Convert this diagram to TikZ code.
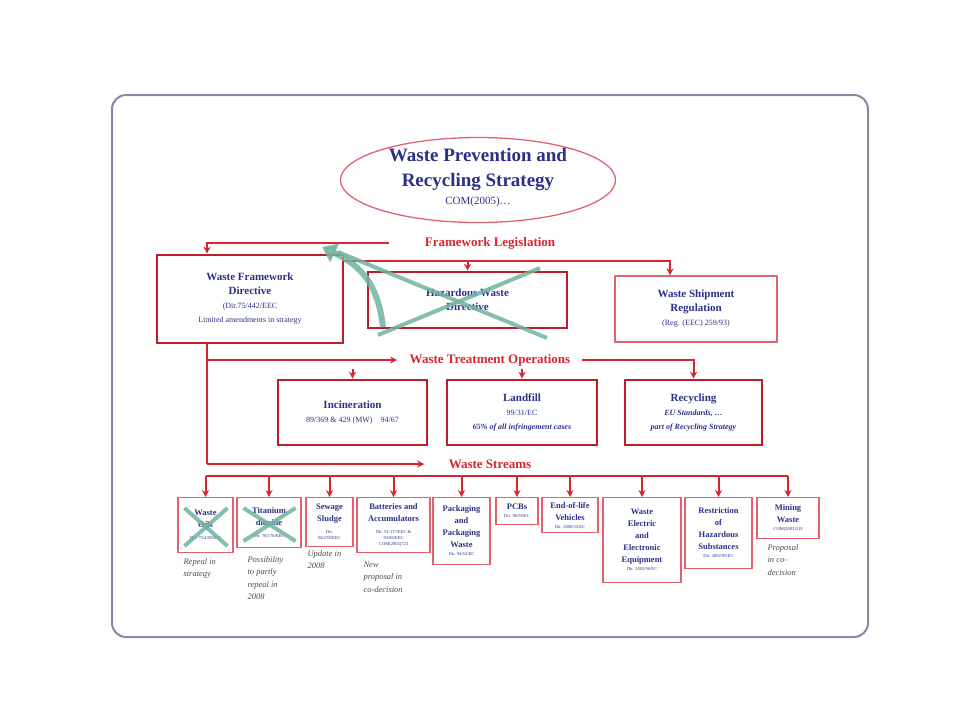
\documentclass[tikz,border=0pt]{standalone}
\usepackage{fontspec}
\setmainfont{Liberation Serif}
\usepackage{tikz}
\usetikzlibrary{positioning,calc,arrows.meta,shapes.geometric}
\definecolor{color1}{HTML}{2B3087}
\definecolor{color2}{HTML}{D9252F}
\definecolor{color3}{HTML}{E2626E}
\definecolor{color4}{HTML}{6FB39E}
\definecolor{color5}{HTML}{858AA3}
\newcommand{\StrategyTitleFont}{\fontsize{19pt}{25pt}\selectfont}
\newcommand{\StrategyHeadingFont}{\fontsize{13pt}{15pt}\selectfont}
\newcommand{\StrategyBoxFont}{\fontsize{11pt}{14pt}\selectfont}
\newcommand{\StrategySmallFont}{\fontsize{8pt}{11pt}\selectfont}
\newcommand{\StreamFont}{\fontsize{8.5pt}{12pt}\selectfont}
\newcommand{\StreamDirFont}{\fontsize{4.5pt}{6pt}\selectfont}
\newcommand{\NoteFont}{\fontsize{8.5pt}{12.5pt}\selectfont}

\begin{document}
\begin{tikzpicture}[x=1pt,y=-1pt]
            \tikzset{
                strategy frame/.style={draw=color5, line width=2pt, rounded corners=14pt},
                strategy ellipse/.style={draw=color3, line width=1.3pt, ellipse,
                    minimum width=275, minimum height=85, inner sep=0pt},
                strategy heading/.style={text=color2, font=\StrategyHeadingFont\bfseries},
                strategy line/.style={draw=color2, line width=2pt},
                strategy flow/.style={->, >={Stealth[length=7pt,width=7pt]},
                    line width=2pt, draw=color2},
                strategy box/.style={draw=color2!85!black, line width=2.6pt,
                    align=center, text=color1, inner sep=2pt,
                    font=\StrategyBoxFont},
                stream box/.style={draw=color3, line width=1.1pt, align=center,
                    text=color1, inner sep=1pt, anchor=north, font=\StreamFont},
                strategy note/.style={anchor=north west, align=left,
                    font=\NoteFont\itshape, text=black!70},
                cross mark/.style={draw=color4, line width=4pt, opacity=0.85}
            }
            \useasboundingbox (0,0) rectangle (956,721);
            \draw[strategy frame] (112,95) rectangle (868,637);

            % strategy on top
            \node[strategy ellipse] (strategy) at (478,180) {};
            \node[align=center, text=color1, font=\StrategyTitleFont\bfseries]
                (strategy-title) at (478,178)
                {Waste Prevention and\\Recycling Strategy\\[-7pt]
                 {\fontsize{11pt}{12pt}\selectfont\mdseries COM(2005)\ldots}};

            % headings
            \node[strategy heading] (framework-label) at (490,243) {Framework Legislation};
            \node[strategy heading] (treatment-label) at (490,360) {Waste Treatment Operations};
            \node[strategy heading] (streams-label) at (490,464) {Waste Streams};

            % framework legislation
            \node[strategy box, minimum width=186, minimum height=88] (wfd) at (250,299)
                {\textbf{Waste Framework}\\\textbf{Directive}\\
                 {\StrategySmallFont(Dir.75/442/EEC}\\
                 {\StrategySmallFont Limited amendments in strategy}};
            \node[strategy box, minimum width=199, minimum height=56] (hazardous) at (467.5,300)
                {\textbf{Hazardous Waste}\\\textbf{Directive}};
            \node[strategy box, draw=color3, line width=1.3pt, minimum width=162,
                minimum height=66] (shipment) at (696,309)
                {\textbf{Waste Shipment}\\\textbf{Regulation}\\
                 {\StrategySmallFont(Reg. (EEC) 259/93)}};
            \coordinate (legislation-bus) at (0,261);
            \coordinate (trunk-end) at (207,464);

            \draw[strategy flow] ([xshift=-32pt]framework-label.west) -| ([xshift=-43pt]wfd.north);
            \draw[strategy flow] (wfd.east |- legislation-bus) -| ([xshift=-26pt]shipment.north);
            \draw[strategy flow] (hazardous.north |- legislation-bus) -- (hazardous.north);
            \draw[strategy line] ([xshift=-43pt]wfd.south) -- (trunk-end);

            % hazardous waste merged into the framework directive
            \draw[cross mark] (338,252) -- (547,338);
            \draw[cross mark] (378,335) -- (540,268);
            \draw[cross mark, line width=6pt, -{Triangle[length=14pt,width=20pt]}]
                (383,327) .. controls (378,285) and (362,266) .. (322,247);

            % treatment operations
            \node[strategy box, minimum width=149, minimum height=65] (incineration) at (352.5,412.5)
                {\textbf{Incineration}\\{\StrategySmallFont 89/369 \& 429 (MW)\quad 94/67}};
            \node[strategy box, minimum width=150, minimum height=65] (landfill) at (522,412.5)
                {\textbf{Landfill}\\{\StrategySmallFont 99/31/EC}\\
                 {\StrategySmallFont\bfseries\itshape 65\% of all infringement cases}};
            \node[strategy box, minimum width=137, minimum height=65] (recycling) at (693.5,412.5)
                {\textbf{Recycling}\\{\StrategySmallFont\bfseries\itshape EU Standards, \ldots}\\
                 {\StrategySmallFont\bfseries\itshape part of Recycling Strategy}};

            \draw[strategy flow] (trunk-end |- treatment-label) -- ([xshift=-9pt]treatment-label.west);
            \draw[strategy flow] ([xshift=8pt]treatment-label.east) -| (recycling.north);
            \draw[strategy flow] ([yshift=10pt]incineration.north) -- (incineration.north);
            \draw[strategy flow] ([yshift=10pt]landfill.north) -- (landfill.north);

            % waste streams
            \draw[strategy flow] (trunk-end) -- ([xshift=-21pt]streams-label.west);
            \coordinate (streams-bus) at (0,476);
            \foreach \stream/\cx/\w/\h/\txt in {
                1/205.5/55/55/{\textbf{Waste}\\\textbf{Oils}\\{\StreamDirFont Dir. 75/439/EEC}},
                2/269/64/50/{\textbf{Titanium}\\\textbf{dioxide}\\{\StreamDirFont Dir. 78/176/EEC}},
                3/329.5/47/49/{\textbf{Sewage}\\\textbf{Sludge}\\{\StreamDirFont Dir.}\\[-6pt]{\StreamDirFont 86/278/EEC}},
                4/393.5/73/55/{\textbf{Batteries and}\\\textbf{Accumulators}\\{\StreamDirFont Dir. 91/157/EEC \&}\\[-6pt]{\StreamDirFont 93/86/EEC}\\[-6pt]{\StreamDirFont COM(2003)723}},
                5/461.5/57/67/{\textbf{Packaging}\\\textbf{and}\\\textbf{Packaging}\\\textbf{Waste}\\[-4pt]{\StreamDirFont Dir. 94/62/EC}},
                6/517/42/27/{\textbf{PCBs}\\[-4pt]{\StreamDirFont Dir. 96/59/EC}},
                7/570/56/35/{\textbf{End-of-life}\\\textbf{Vehicles}\\[-4pt]{\StreamDirFont Dir. 2000/53/EC}},
                8/642/78/85/{\textbf{Waste}\\\textbf{Electric}\\\textbf{and}\\\textbf{Electronic}\\\textbf{Equipment}\\[-4pt]{\StreamDirFont Dir. 2002/96/EC}},
                9/718.5/67/71/{\textbf{Restriction}\\\textbf{of}\\\textbf{Hazardous}\\\textbf{Substances}\\[-4pt]{\StreamDirFont Dir. 2002/95/EC}},
                10/788/62/41/{\textbf{Mining}\\\textbf{Waste}\\[-4pt]{\StreamDirFont COM(2003)319}}} {
                \node[stream box, minimum width=\w, minimum height=\h]
                    (stream-\stream) at (\cx,497) {\txt};
                \draw[strategy flow] (stream-\stream.north |- streams-bus) -- (stream-\stream.north);
            }
            \draw[strategy line] (stream-1.north |- streams-bus) -- (stream-10.north |- streams-bus);
            \foreach \stream in {1,2} {
                \draw[cross mark] ([shift={(7pt,-11pt)}]stream-\stream.north west)
                    -- ([shift={(-6pt,7pt)}]stream-\stream.south east);
                \draw[cross mark] ([shift={(7pt,7pt)}]stream-\stream.south west)
                    -- ([shift={(-6pt,-11pt)}]stream-\stream.north east);
            }

            % notes under the streams
            \node[strategy note] (note-oils) at (180,555) {Repeal in\\strategy};
            \node[strategy note] (note-titanium) at (244,553) {Possibility\\to partly\\repeal in\\2008};
            \node[strategy note] (note-sewage) at (304,547) {Update in\\2008};
            \node[strategy note] (note-batteries) at (360,558) {New\\proposal in\\co-decision};
            \node[strategy note] (note-mining) at (764,541) {Proposal\\in co-\\decision};
\end{tikzpicture}
\end{document}
